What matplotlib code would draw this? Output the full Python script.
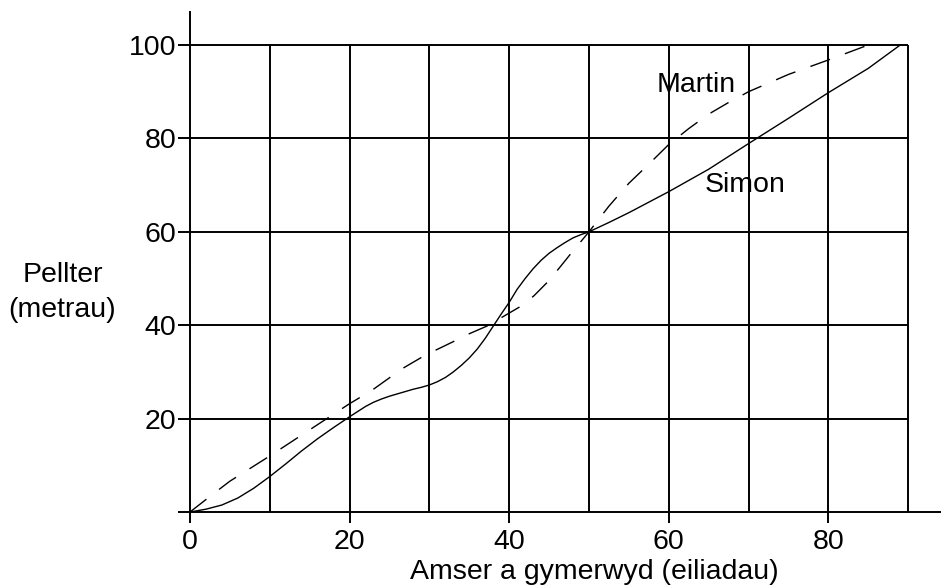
import matplotlib
matplotlib.use("Agg")
import matplotlib.pyplot as plt

plt.rcParams['font.family'] = ['Liberation Sans', 'DejaVu Sans']
plt.rcParams['lines.scale_dashes'] = False

# Data
simon_t = [0, 2, 4, 6, 8, 10, 12, 14, 16, 18, 20, 21, 22, 23, 24, 25, 26, 27, 28, 29,
           30, 31, 32, 33, 34, 35, 36, 37, 38, 39, 40, 41, 42, 43, 44, 45, 46, 47, 48,
           49, 50, 52.5, 55, 60, 65, 70, 75, 80, 85, 89]
simon_d = [0, 0.6, 1.5, 3.0, 5.1, 7.6, 10.3, 13.1, 15.7, 18.1, 20.4, 21.5, 22.6, 23.5,
           24.2, 24.8, 25.3, 25.8, 26.3, 26.7, 27.2, 27.9, 28.8, 30.0, 31.4, 33.0, 34.9,
           37.2, 39.8, 42.4, 44.9, 47.7, 50.0, 52.1, 53.9, 55.4, 56.6, 57.7, 58.7, 59.4,
           60, 62.0, 64.1, 68.6, 73.4, 78.9, 84.3, 89.8, 95.0, 100]

martin_t = [0, 2.7, 5, 10, 15, 20, 22.75, 24.8, 26.6, 28.9, 30.6, 32.9, 34.9, 37.2,
            39.3, 41.5, 43.1, 44.9, 46.3, 47.9, 50, 52.5, 55, 57.5, 60, 62.5, 65, 67.5,
            70, 75, 80, 85]
martin_d = [0, 3.6, 6.6, 12.0, 17.6, 23.2, 26.0, 28.5, 30.7, 33.0, 34.5, 36.4, 38.1,
            39.8, 41.9, 44.1, 46.3, 49.4, 52.3, 55.7, 60, 65.5, 70.4, 74.5, 78.7, 82.1,
            85.2, 87.7, 90.0, 93.7, 96.8, 100]

x_ticks = [0, 20, 40, 60, 80]
x_tick_labels = ['0', '20', '40', '60', '80']
y_ticks = [0, 20, 40, 60, 80, 100]
y_tick_labels = ['', '20', '40', '60', '80', '100']
v_grid = [10, 20, 30, 40, 50, 60, 70, 80, 90]
h_grid = [20, 40, 60, 80, 100]

x_label = 'Amser a gymerwyd (eiliadau)'
y_label_lines = ['Pellter', '(metrau)']
series_names = ['Simon', 'Martin']

FS = 20.5
W, H = 941, 586
fig = plt.figure(figsize=(W / 100, H / 100), dpi=100)
ax = fig.add_axes([190 / W, (H - 512) / H, (W - 190) / W, (512 - 12) / H])
ax.set_xlim(0, (W - 190) / 7.98)
ax.set_ylim(0, (512 - 12) / 4.67)

for s in ['top', 'right']:
    ax.spines[s].set_visible(False)
for s in ['left', 'bottom']:
    ax.spines[s].set_linewidth(1.4)
    ax.spines[s].set_color('black')

# grid
ax.vlines(v_grid, 0, max(h_grid), colors='black', linewidth=1.4, zorder=1)
ax.hlines(h_grid, 0, max(v_grid), colors='black', linewidth=1.4, zorder=1)

ax.plot(simon_t, simon_d, color='black', linewidth=1.0, zorder=3,
        solid_joinstyle='round')
ln, = ax.plot(martin_t, martin_d, color='black', linewidth=1.0, zorder=3)
ln.set_dashes((15, 11.5))

ax.set_xticks(x_ticks)
ax.set_xticklabels(x_tick_labels)
ax.set_yticks(y_ticks)
ax.set_yticklabels(y_tick_labels)
ax.tick_params(axis='x', direction='out', length=8, width=1.4, pad=4, labelsize=FS)
ax.tick_params(axis='y', direction='out', length=9, width=1.4, pad=1, labelsize=FS)

ax.text(63.4, 91.4, series_names[1], fontsize=FS, ha='center', va='center', zorder=4)
ax.text(69.6, 70.0, series_names[0], fontsize=FS, ha='center', va='center', zorder=4)

fig.text(594 / W, (H - 579) / H, x_label, fontsize=FS, ha='center', va='baseline')
fig.text(63 / W, (H - 282) / H, y_label_lines[0], fontsize=FS, ha='center', va='baseline')
fig.text(62 / W, (H - 317) / H, y_label_lines[1], fontsize=FS, ha='center', va='baseline')

fig.savefig('out.png', dpi=100)
